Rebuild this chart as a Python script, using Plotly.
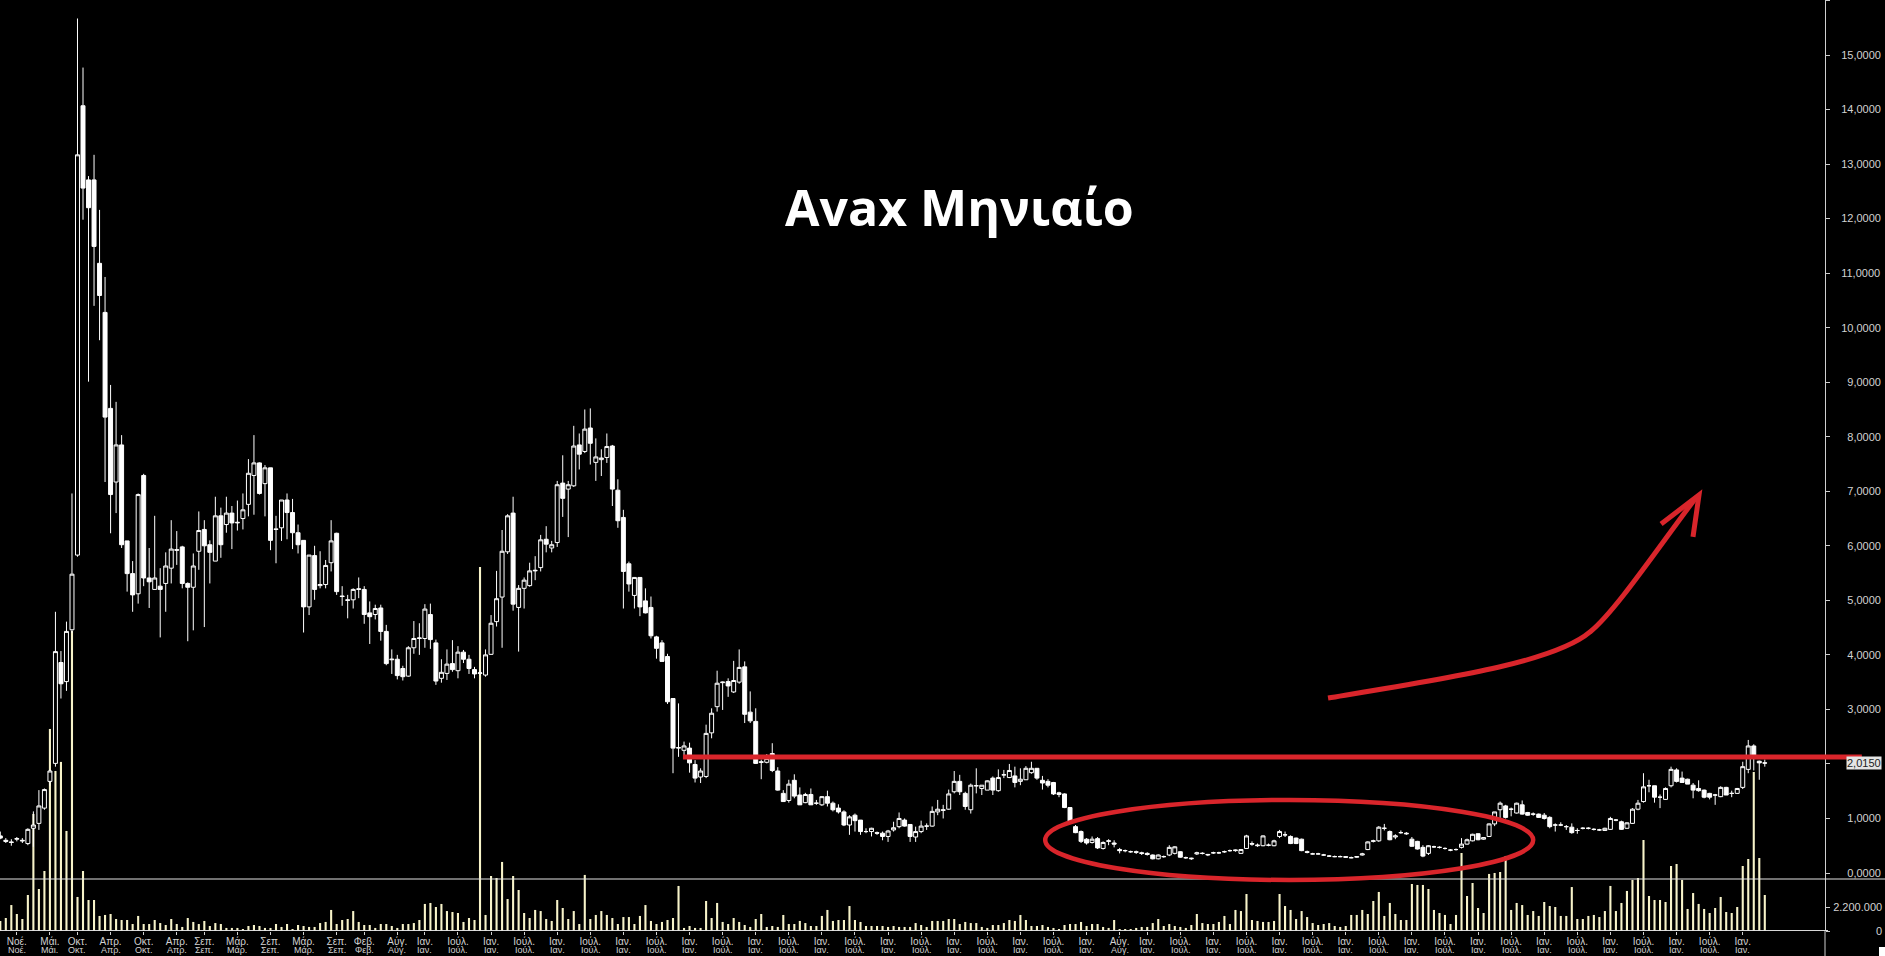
import plotly.graph_objects as go

# ---------------- data ----------------
# monthly bars Aug 1998 .. May 2025 (no bar for Jul 2015: exchange closed)
first_month = (1998, 8)
last_month = (2025, 5)
missing_months = ["2015-07"]

months = []
yy, mm = first_month
while (yy, mm) <= last_month:
    key = f"{yy}-{mm:02d}"
    if key not in missing_months:
        months.append(key)
    mm += 1
    if mm > 12:
        mm, yy = 1, yy + 1

open_ = [
    0.68, 0.60, 0.57, 0.62, 0.60, 0.54, 0.82, 0.91, 1.19, 1.68,      # 0
    2.01, 3.86, 3.51, 4.46, 5.83, 14.07, 12.71, 12.71, 11.18, 10.28,  # 10
    8.52, 7.17, 7.85, 6.09, 5.49, 5.12, 7.29, 5.41, 5.20, 5.26,       # 20
    5.31, 5.59, 5.93, 5.98, 5.31, 5.24, 5.90, 6.30, 6.02, 5.72,       # 30
    6.55, 6.39, 6.60, 6.42, 6.50, 6.76, 7.29, 7.52, 7.14, 7.43,       # 40
    6.31, 6.33, 6.84, 6.61, 6.24, 6.10, 4.88, 5.82, 5.27, 5.29,       # 50
    5.69, 6.23, 5.08, 5.01, 5.01, 5.20, 5.20, 4.77, 4.74, 4.86,       # 60
    4.43, 3.91, 3.92, 3.75, 3.61, 4.13, 4.30, 4.30, 4.74, 4.22,       # 70
    3.57, 3.66, 3.84, 3.71, 4.05, 3.92, 3.73, 3.66, 3.63, 4.01,       # 80
    4.61, 5.06, 5.89, 6.60, 4.87, 5.22, 5.27, 5.54, 5.60, 6.12,       # 90
    5.96, 6.06, 7.15, 7.04, 7.10, 7.85, 7.73, 8.16, 7.53, 7.58,       # 100
    7.62, 7.83, 7.02, 6.52, 5.67, 5.09, 5.42, 4.99, 4.87, 4.33,       # 110
    4.22, 3.97, 3.20, 2.29, 2.25, 2.29, 1.99, 1.76, 1.77, 2.57,       # 120
    3.05, 3.49, 3.51, 3.32, 3.50, 3.78, 2.95, 2.78, 2.04, 2.03,       # 130
    2.19, 1.87, 1.46, 1.33, 1.70, 1.43, 1.29, 1.44, 1.28, 1.25,       # 140
    1.40, 1.28, 1.19, 1.12, 0.88, 1.06, 0.97, 0.76, 0.76, 0.74,       # 150
    0.73, 0.67, 0.79, 0.85, 0.97, 0.89, 0.66, 0.76, 0.86, 0.86,       # 160
    1.12, 1.16, 1.17, 1.49, 1.68, 1.46, 1.16, 1.60, 1.55, 1.52,       # 170
    1.74, 1.51, 1.80, 1.75, 1.78, 1.68, 1.71, 1.84, 1.92, 1.70,       # 180
    1.68, 1.66, 1.47, 1.45, 1.20, 0.85, 0.76, 0.62, 0.56, 0.63,       # 190
    0.45, 0.58, 0.55, 0.43, 0.41, 0.39, 0.39, 0.37, 0.36, 0.33,       # 200
    0.26, 0.30, 0.33, 0.36, 0.39, 0.28, 0.26, 0.35, 0.36, 0.33,       # 210
    0.37, 0.37, 0.39, 0.41, 0.41, 0.36, 0.45, 0.54, 0.50, 0.50,       # 220
    0.51, 0.50, 0.67, 0.70, 0.67, 0.64, 0.62, 0.39, 0.35, 0.35,       # 230
    0.33, 0.31, 0.30, 0.30, 0.30, 0.28, 0.29, 0.33, 0.43, 0.58,       # 240
    0.59, 0.82, 0.76, 0.66, 0.74, 0.73, 0.62, 0.58, 0.47, 0.36,       # 250
    0.48, 0.47, 0.45, 0.42, 0.43, 0.47, 0.53, 0.59, 0.72, 0.62,       # 260
    0.67, 0.90, 1.16, 1.23, 1.17, 1.10, 1.25, 1.11, 1.08, 1.08,       # 270
    1.06, 1.02, 0.88, 0.88, 0.85, 0.84, 0.78, 0.82, 0.82, 0.80,       # 280
    0.79, 0.78, 0.80, 0.97, 0.94, 0.82, 0.91, 1.17, 1.31, 1.60,       # 290
    1.60, 1.39, 1.35, 1.60, 1.89, 1.74, 1.72, 1.61, 1.55, 1.52,       # 300
    1.46, 1.43, 1.40, 1.57, 1.46, 1.46, 1.57, 1.90, 2.33, 2.05,       # 310
    2.02,                                                             # 320
]
high = [
    0.76, 0.64, 0.62, 0.66, 0.64, 0.82, 1.13, 1.52, 1.55, 1.90,
    4.79, 4.07, 4.61, 6.96, 15.67, 14.77, 12.78, 13.17, 12.16, 10.93,
    8.95, 8.64, 8.03, 6.09, 5.72, 6.96, 7.32, 5.96, 6.55, 5.59,
    5.88, 6.47, 6.27, 6.00, 5.33, 5.86, 6.63, 6.47, 6.10, 6.90,
    6.70, 6.90, 6.73, 6.83, 6.96, 7.59, 8.03, 7.53, 7.48, 7.43,
    6.55, 6.84, 6.96, 6.86, 6.39, 6.10, 5.83, 6.00, 5.90, 5.74,
    6.47, 6.24, 5.26, 5.10, 5.22, 5.42, 5.26, 4.98, 4.92, 4.92,
    4.55, 4.10, 4.00, 3.80, 4.16, 4.62, 4.58, 4.93, 4.94, 4.28,
    3.92, 4.10, 4.27, 4.16, 4.09, 4.00, 3.78, 3.72, 4.10, 4.73,
    5.54, 6.29, 6.58, 6.90, 5.28, 5.42, 5.69, 5.81, 6.20, 6.36,
    6.09, 7.19, 7.66, 7.19, 8.20, 8.06, 8.50, 8.52, 7.97, 7.77,
    8.06, 7.85, 7.22, 6.66, 5.71, 5.42, 5.42, 5.22, 5.07, 4.35,
    4.27, 4.02, 3.20, 3.11, 2.41, 2.39, 2.07, 1.92, 2.72, 3.02,
    3.71, 3.51, 3.57, 3.89, 4.10, 3.88, 3.33, 3.02, 2.08, 2.18,
    2.38, 1.94, 1.52, 1.71, 1.81, 1.57, 1.47, 1.55, 1.34, 1.41,
    1.51, 1.31, 1.26, 1.15, 1.06, 1.09, 0.97, 0.82, 0.83, 0.76,
    0.76, 0.79, 0.94, 1.11, 1.00, 0.89, 0.85, 0.96, 0.91, 1.22,
    1.34, 1.25, 1.53, 1.87, 1.80, 1.49, 1.64, 1.92, 1.61, 1.70,
    1.77, 1.90, 1.89, 2.00, 1.95, 1.92, 1.96, 2.04, 1.92, 1.78,
    1.72, 1.67, 1.49, 1.46, 1.21, 0.88, 0.78, 0.64, 0.67, 0.66,
    0.58, 0.62, 0.60, 0.46, 0.43, 0.41, 0.41, 0.39, 0.38, 0.34,
    0.34, 0.32, 0.51, 0.49, 0.40, 0.30, 0.28, 0.39, 0.38, 0.35,
    0.39, 0.39, 0.41, 0.43, 0.43, 0.44, 0.70, 0.58, 0.54, 0.69,
    0.54, 0.61, 0.79, 0.76, 0.69, 0.65, 0.63, 0.41, 0.37, 0.37,
    0.35, 0.33, 0.32, 0.32, 0.31, 0.30, 0.31, 0.37, 0.58, 0.61,
    0.86, 0.90, 0.78, 0.71, 0.78, 0.75, 0.66, 0.59, 0.51, 0.51,
    0.50, 0.49, 0.47, 0.44, 0.45, 0.64, 0.63, 0.72, 0.73, 0.66,
    0.91, 1.12, 1.31, 1.25, 1.20, 1.29, 1.33, 1.12, 1.11, 1.09,
    1.10, 1.04, 0.91, 0.93, 0.88, 0.91, 0.82, 0.84, 0.84, 0.82,
    0.81, 0.83, 1.03, 0.99, 0.96, 0.93, 1.19, 1.34, 1.83, 1.71,
    1.60, 1.44, 1.57, 1.95, 1.92, 1.86, 1.73, 1.65, 1.70, 1.53,
    1.47, 1.45, 1.59, 1.58, 1.51, 1.56, 2.04, 2.44, 2.36, 2.06,
    2.08,
]
low = [
    0.62, 0.55, 0.50, 0.58, 0.55, 0.51, 0.48, 0.79, 1.16, 1.60,
    1.95, 3.20, 3.34, 4.40, 5.80, 11.98, 9.01, 10.40, 9.77, 7.17,
    6.23, 6.60, 5.96, 5.16, 4.79, 4.94, 5.26, 4.86, 5.20, 4.32,
    4.79, 5.31, 5.65, 5.22, 4.25, 4.45, 5.56, 4.51, 5.31, 5.72,
    5.78, 6.24, 5.94, 6.28, 6.30, 6.54, 6.57, 6.94, 6.54, 5.92,
    5.68, 6.09, 6.12, 5.94, 5.86, 4.41, 4.73, 5.01, 5.22, 5.22,
    5.53, 5.10, 4.90, 4.67, 4.85, 5.04, 4.57, 4.20, 4.65, 4.26,
    3.81, 3.65, 3.55, 3.53, 3.60, 4.02, 4.00, 4.13, 4.11, 3.45,
    3.49, 3.54, 3.69, 3.57, 3.85, 3.65, 3.57, 3.62, 3.60, 4.00,
    4.52, 4.13, 5.85, 4.81, 4.06, 4.85, 5.25, 5.37, 5.53, 5.88,
    5.88, 5.98, 6.53, 6.16, 7.08, 7.40, 7.70, 7.49, 7.19, 7.28,
    7.52, 6.73, 6.33, 4.85, 5.16, 4.85, 4.71, 4.76, 4.30, 3.93,
    3.88, 3.10, 1.83, 2.13, 2.09, 1.84, 1.66, 1.65, 1.74, 2.47,
    2.96, 2.99, 3.23, 3.30, 3.47, 2.75, 2.75, 2.00, 1.72, 2.01,
    1.85, 1.51, 1.31, 1.29, 1.37, 1.25, 1.28, 1.25, 1.25, 1.23,
    1.22, 1.13, 1.09, 0.86, 0.70, 0.76, 0.70, 0.73, 0.67, 0.70,
    0.60, 0.57, 0.76, 0.82, 0.85, 0.57, 0.57, 0.73, 0.79, 0.85,
    1.06, 1.00, 1.16, 1.46, 1.43, 1.16, 1.09, 1.46, 1.43, 1.52,
    1.43, 1.49, 1.74, 1.74, 1.57, 1.61, 1.71, 1.82, 1.71, 1.53,
    1.57, 1.43, 1.39, 1.19, 0.92, 0.73, 0.55, 0.52, 0.54, 0.44,
    0.43, 0.51, 0.47, 0.36, 0.38, 0.37, 0.35, 0.33, 0.32, 0.25,
    0.25, 0.28, 0.31, 0.34, 0.28, 0.26, 0.24, 0.33, 0.34, 0.31,
    0.35, 0.35, 0.37, 0.39, 0.39, 0.35, 0.44, 0.50, 0.48, 0.49,
    0.49, 0.49, 0.64, 0.66, 0.53, 0.53, 0.40, 0.36, 0.34, 0.34,
    0.32, 0.30, 0.29, 0.29, 0.28, 0.27, 0.28, 0.32, 0.42, 0.56,
    0.57, 0.78, 0.60, 0.62, 0.72, 0.70, 0.48, 0.43, 0.29, 0.33,
    0.46, 0.45, 0.43, 0.40, 0.41, 0.45, 0.52, 0.58, 0.60, 0.61,
    0.66, 0.86, 0.97, 1.00, 1.04, 1.09, 1.07, 1.05, 1.05, 1.01,
    0.98, 0.82, 0.76, 0.86, 0.79, 0.72, 0.72, 0.80, 0.80, 0.78,
    0.77, 0.77, 0.79, 0.95, 0.79, 0.81, 0.90, 1.15, 1.29, 1.48,
    1.29, 1.19, 1.34, 1.57, 1.66, 1.66, 1.63, 1.37, 1.49, 1.37,
    1.35, 1.25, 1.39, 1.43, 1.39, 1.45, 1.54, 1.83, 1.88, 1.71,
    1.95,
]
close = [
    0.64, 0.58, 0.56, 0.63, 0.59, 0.80, 0.88, 1.23, 1.53, 1.87,
    4.06, 3.47, 4.43, 5.48, 13.17, 12.56, 12.20, 11.49, 10.59, 8.36,
    6.94, 7.85, 6.02, 5.49, 5.10, 6.94, 5.41, 5.34, 5.41, 5.20,
    5.63, 5.94, 5.92, 5.31, 5.24, 5.63, 6.28, 6.00, 5.88, 6.55,
    6.02, 6.60, 6.42, 6.43, 6.66, 7.33, 7.52, 6.96, 7.43, 6.10,
    6.30, 6.84, 6.61, 6.24, 6.02, 4.88, 5.83, 5.20, 5.29, 5.64,
    6.09, 5.16, 5.07, 5.00, 5.20, 5.21, 4.74, 4.70, 4.85, 4.43,
    3.84, 3.92, 3.62, 3.60, 4.13, 4.30, 4.31, 4.84, 4.28, 3.52,
    3.68, 3.83, 3.73, 4.05, 3.92, 3.75, 3.65, 3.67, 4.00, 4.58,
    5.03, 5.90, 6.55, 4.93, 5.22, 5.37, 5.54, 5.55, 6.11, 6.03,
    6.02, 7.12, 6.87, 7.12, 7.83, 7.68, 8.14, 7.88, 7.63, 7.61,
    7.82, 7.04, 6.46, 5.53, 5.30, 5.42, 4.88, 4.77, 4.35, 4.12,
    3.88, 3.14, 2.29, 2.30, 2.33, 2.02, 1.74, 1.87, 2.56, 2.93,
    3.48, 3.50, 3.43, 3.53, 3.77, 2.91, 2.79, 2.01, 2.03, 2.10,
    1.88, 1.52, 1.31, 1.63, 1.41, 1.25, 1.44, 1.25, 1.28, 1.40,
    1.28, 1.16, 1.12, 0.88, 1.03, 0.96, 0.76, 0.76, 0.82, 0.73,
    0.67, 0.77, 0.83, 1.00, 0.86, 0.67, 0.76, 0.86, 0.86, 1.13,
    1.17, 1.15, 1.45, 1.68, 1.49, 1.22, 1.61, 1.60, 1.61, 1.69,
    1.52, 1.75, 1.80, 1.88, 1.66, 1.72, 1.92, 1.92, 1.74, 1.65,
    1.61, 1.45, 1.44, 1.20, 0.94, 0.74, 0.58, 0.55, 0.62, 0.46,
    0.56, 0.59, 0.53, 0.41, 0.41, 0.39, 0.38, 0.36, 0.34, 0.26,
    0.33, 0.30, 0.47, 0.48, 0.29, 0.28, 0.27, 0.37, 0.36, 0.34,
    0.37, 0.37, 0.39, 0.41, 0.42, 0.43, 0.68, 0.53, 0.51, 0.68,
    0.51, 0.59, 0.76, 0.70, 0.54, 0.54, 0.41, 0.38, 0.35, 0.35,
    0.33, 0.31, 0.30, 0.30, 0.29, 0.28, 0.30, 0.35, 0.57, 0.59,
    0.84, 0.82, 0.61, 0.68, 0.74, 0.72, 0.49, 0.44, 0.31, 0.50,
    0.48, 0.47, 0.45, 0.42, 0.43, 0.53, 0.61, 0.71, 0.61, 0.65,
    0.90, 1.12, 1.28, 1.02, 1.17, 1.28, 1.08, 1.06, 1.08, 1.02,
    1.00, 0.85, 0.88, 0.88, 0.85, 0.74, 0.78, 0.82, 0.82, 0.80,
    0.79, 0.82, 1.00, 0.97, 0.80, 0.92, 1.17, 1.28, 1.58, 1.60,
    1.39, 1.39, 1.55, 1.90, 1.68, 1.66, 1.63, 1.52, 1.51, 1.39,
    1.39, 1.43, 1.57, 1.43, 1.46, 1.55, 1.95, 2.33, 2.16, 2.02,
    2.015,
]
# volume, millions of shares
volume_m = [
    0.92, 1.19, 2.38, 1.56, 1.10, 3.30, 10.73, 3.85, 5.50, 18.52,
    14.67, 15.50, 9.17, 27.50, 3.12, 5.50, 2.84, 2.84, 1.38, 1.47,
    1.56, 1.10, 1.01, 1.01, 0.64, 1.38, 0.64, 0.64, 1.01, 0.73,
    0.55, 1.10, 0.64, 0.37, 1.19, 0.83, 0.64, 0.92, 0.46, 0.73,
    0.64, 0.28, 0.28, 0.28, 0.18, 0.46, 0.55, 0.46, 0.28, 0.28,
    0.64, 0.37, 0.64, 0.18, 0.55, 0.46, 0.37, 0.37, 0.73, 0.83,
    1.93, 0.64, 1.01, 1.10, 1.83, 0.83, 0.55, 0.55, 0.28, 0.64,
    0.64, 0.46, 0.28, 0.64, 0.64, 0.73, 1.01, 2.48, 2.57, 2.20,
    2.48, 1.83, 1.74, 1.65, 0.83, 1.19, 1.01, 33.37, 1.47, 5.04,
    4.86, 6.33, 2.93, 5.04, 3.76, 1.65, 1.19, 1.93, 1.83, 1.10,
    0.92, 2.84, 2.11, 1.10, 1.83, 0.64, 5.14, 1.10, 1.47, 1.83,
    1.47, 1.19, 0.64, 1.28, 1.28, 0.64, 1.38, 2.38, 0.92, 0.64,
    0.83, 1.01, 1.19, 4.13, 0.28, 0.46, 0.28, 0.28, 2.75, 1.19,
    2.57, 0.83, 0.64, 1.19, 0.83, 0.55, 0.37, 1.10, 1.56, 0.37,
    0.46, 0.37, 1.47, 0.64, 0.64, 0.92, 0.73, 0.46, 0.46, 1.38,
    1.93, 0.92, 1.01, 1.01, 2.29, 1.01, 0.83, 0.46, 0.46, 0.46,
    0.46, 0.37, 0.46, 0.37, 0.37, 0.37, 0.73, 0.55, 0.37, 0.92,
    0.92, 0.92, 1.10, 1.10, 0.64, 0.83, 0.73, 0.73, 0.37, 0.28,
    0.55, 0.55, 0.73, 1.01, 0.92, 1.47, 1.01, 0.46, 0.46, 0.55,
    0.37, 0.28, 0.18, 0.55, 0.64, 0.64, 0.83, 0.46, 0.64, 0.64,
    0.37, 0.28, 1.01, 0.18, 0.18, 0.18, 0.28, 0.37, 0.37, 0.73,
    1.10, 0.46, 0.64, 0.46, 0.37, 0.28, 0.55, 1.56, 0.73, 0.64,
    0.64, 0.83, 1.38, 0.64, 1.93, 1.83, 3.39, 1.01, 0.92, 0.83,
    0.83, 0.92, 3.39, 2.29, 1.93, 1.10, 1.83, 1.28, 0.73, 0.55,
    0.64, 0.73, 0.46, 0.37, 0.46, 1.47, 1.47, 1.93, 1.56, 2.75,
    3.58, 1.38, 2.57, 1.56, 1.01, 1.01, 4.31, 4.22, 4.22, 3.85,
    1.93, 1.65, 1.47, 0.64, 1.47, 7.15, 3.21, 4.40, 2.11, 1.65,
    5.23, 5.32, 5.41, 6.88, 1.93, 2.57, 2.38, 1.47, 1.83, 1.38,
    2.66, 2.29, 2.20, 1.38, 1.38, 4.03, 1.10, 1.10, 1.38, 1.47,
    1.28, 1.83, 4.13, 1.83, 2.57, 3.67, 4.68, 4.86, 8.34, 3.21,
    2.84, 2.84, 2.66, 5.96, 6.14, 4.68, 2.02, 3.48, 2.48, 2.02,
    1.65, 2.11, 3.12, 1.74, 1.65, 2.20, 5.96, 6.60, 14.58, 6.69,
    3.30,
]

tick_months = [
    "1998-11", "1999-05", "1999-10", "2000-04", "2000-10", "2001-04",
    "2001-09", "2002-03", "2002-09", "2003-03", "2003-09", "2004-02",
    "2004-08", "2005-01", "2005-07", "2006-01", "2006-07", "2007-01",
    "2007-07", "2008-01", "2008-07", "2009-01", "2009-07", "2010-01",
    "2010-07", "2011-01", "2011-07", "2012-01", "2012-07", "2013-01",
    "2013-07", "2014-01", "2014-07", "2015-01", "2015-08", "2016-01",
    "2016-07", "2017-01", "2017-07", "2018-01", "2018-07", "2019-01",
    "2019-07", "2020-01", "2020-07", "2021-01", "2021-07", "2022-01",
    "2022-07", "2023-01", "2023-07", "2024-01", "2024-07", "2025-01",
]
greek_months = {1: "Ιαν.", 2: "Φεβ.", 3: "Μάρ.", 4: "Απρ.", 5: "Μάι.", 6: "Ιούν.",
                7: "Ιούλ.", 8: "Αύγ.", 9: "Σεπ.", 10: "Οκτ.", 11: "Νοέ.", 12: "Δεκ."}

price_ticks = list(range(0, 17))
volume_ticks_m = [0, 2.2]
last_price = 2.015
resistance = 2.127
title_text = "Avax Μηνιαίο"

# ---------------- derived ----------------
N = len(months)
xi = list(range(N))
tick_idx = [months.index(t) for t in tick_months]
tick_text = [greek_months[int(t[5:])] for t in tick_months]

FS = "\u2007"   # figure space (digit width)
PS = "\u2008"   # punctuation space
price_text = []
for v in price_ticks:
    s = f"{v},0000"
    if v < 10:
        s = FS + s
    if v == 2:
        s = ""
    price_text.append(s)
vol_text = [FS * 6 + PS * 2 + "0", "2.200.000"]

W, H = 1885, 956
AXIS_X = 1825 / W
VOL_TOP = 931 / 24 * 2.2
RED = "#d9252b"
LBL = "#d2d2d2"
FONT = "Liberation Sans"

fig = go.Figure()
fig.add_trace(go.Bar(
    x=xi, y=volume_m, yaxis="y", xaxis="x", width=0.38,
    marker=dict(color="#f7f3c9", line=dict(width=0)), hoverinfo="skip"))
fig.add_trace(go.Candlestick(
    x=xi, open=open_, high=high, low=low, close=close, yaxis="y2", xaxis="x",
    increasing=dict(line=dict(color="#ffffff", width=1), fillcolor="#000000"),
    decreasing=dict(line=dict(color="#ffffff", width=1), fillcolor="#ffffff"),
    whiskerwidth=0, hoverinfo="skip"))

shapes = [
    # panel separator
    dict(type="line", xref="paper", x0=0, x1=1, yref="y2", y0=-0.11, y1=-0.11,
         line=dict(color="#e2e2e2", width=1)),
    # volume baseline
    dict(type="line", xref="paper", x0=0, x1=1828 / W, yref="y", y0=0.04, y1=0.04,
         line=dict(color="#e2e2e2", width=1)),
    # axis line extension below plot
    dict(type="line", xref="paper", x0=AXIS_X, x1=AXIS_X, yref="paper", y0=0, y1=-25 / 931,
         line=dict(color="#cfcfcf", width=1)),
    dict(type="rect", xref="paper", x0=1879 / W, x1=1, yref="paper", y0=-25 / 931, y1=-16 / 931,
         line=dict(width=0), fillcolor="#ffffff"),
    # red resistance line
    dict(type="line", xref="x", x0=123.8, x1=337.6, yref="y2", y0=resistance, y1=resistance,
         line=dict(color=RED, width=5)),
    # red ellipse
    dict(type="circle", xref="x", yref="y2", x0=189.5, x1=278.0, y0=-0.128, y1=1.339,
         line=dict(color=RED, width=4.5)),
    # red arrow curve
    dict(type="path", xref="x", yref="y2",
         path="M 240.79,3.209 C 262.92,3.576 281.96,3.869 288.30,4.420 "
              "C 292.84,4.786 301.00,6.015 307.34,6.859",
         line=dict(color=RED, width=5)),
    # arrow head
    dict(type="path", xref="x", yref="y2",
         path="M 301.19,6.400 L 308.07,6.932 L 306.98,6.162",
         line=dict(color=RED, width=5)),
]

annotations = [
    dict(text=f"<b>{title_text}</b>", xref="paper", yref="paper", x=959 / W, y=(931 - 207) / 931,
         xanchor="center", yanchor="middle", showarrow=False,
         font=dict(family="Open Sans", size=50, color="#ffffff")),
    dict(text="2,0150", xref="paper", x=1882 / W, xanchor="right", yref="y2", y=last_price,
         yanchor="middle", showarrow=False, bgcolor="#e4e4e4", borderpad=0,
         font=dict(family=FONT, size=11, color="#222222")),
]
# second row of month labels (squeezed at the very bottom)
for ti, tt in zip(tick_idx, tick_text):
    annotations.append(dict(text=tt, xref="x", x=ti, yref="paper", y=-25 / 931,
                            yanchor="bottom", xanchor="center", showarrow=False,
                            borderpad=0,
                            font=dict(family=FONT, size=9, color=LBL)))

fig.update_layout(
    width=W, height=H,
    margin=dict(l=0, r=0, t=0, b=25, pad=0),
    paper_bgcolor="#000000", plot_bgcolor="#000000",
    showlegend=False, boxgap=0.1, boxgroupgap=0.2,
    font=dict(family=FONT, size=11, color=LBL),
    xaxis=dict(domain=[0, 1], range=[-0.054, 341.8], anchor="y",
               showgrid=False, zeroline=False, showline=False,
               tickmode="array", tickvals=tick_idx, ticktext=tick_text,
               ticks="outside", ticklen=3, tickcolor="#cfcfcf", tickwidth=1,
               ticklabelstandoff=-2,
               tickfont=dict(family=FONT, size=10, color=LBL),
               rangeslider=dict(visible=False), fixedrange=True),
    yaxis=dict(domain=[0, 1], range=[0, VOL_TOP], anchor="free", position=AXIS_X, side="right",
               showgrid=False, zeroline=False, showline=False,
               tickmode="array", tickvals=volume_ticks_m, ticktext=vol_text,
               ticks="outside", ticklen=4, tickcolor="#cfcfcf",
               ticklabelstandoff=1,
               tickfont=dict(family=FONT, size=11, color=LBL), fixedrange=True),
    yaxis2=dict(overlaying="y", range=[-1.0636, 16.009], anchor="free", position=AXIS_X,
                side="right", showgrid=False, zeroline=False,
                showline=True, linecolor="#cfcfcf", linewidth=1,
                tickmode="array", tickvals=price_ticks, ticktext=price_text,
                ticks="outside", ticklen=4, tickcolor="#cfcfcf",
                ticklabelstandoff=9,
                tickfont=dict(family=FONT, size=11, color=LBL), fixedrange=True),
    shapes=shapes, annotations=annotations,
)

fig.write_html(
    "out.html",
    config={"displayModeBar": False},
    post_script="document.documentElement.style.margin='0';"
                "document.body.style.margin='0';"
                "document.body.style.background='#000';"
                "document.body.style.overflow='hidden';",
)
